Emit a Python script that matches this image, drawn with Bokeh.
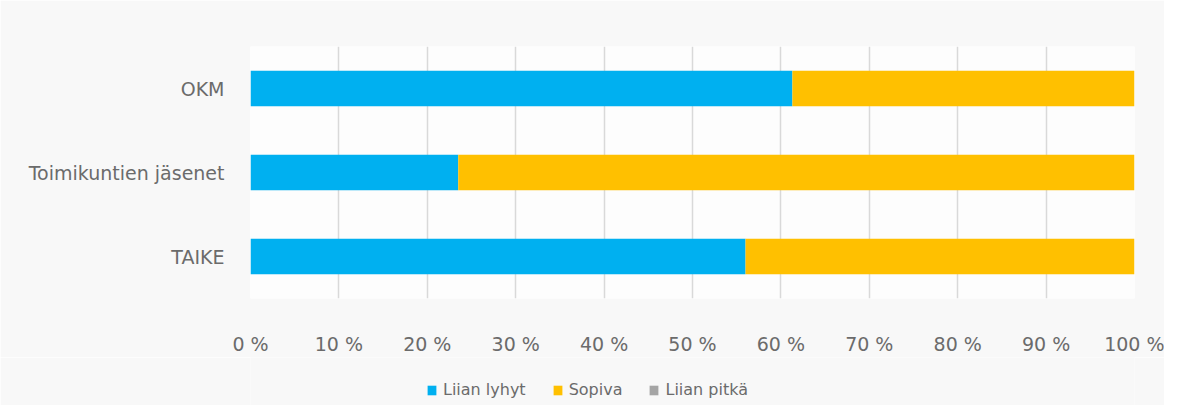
from bokeh.plotting import figure
from bokeh.layouts import column
from bokeh.models import ColumnDataSource, Legend, LegendItem, FactorRange, PrintfTickFormatter, FixedTicker
from bokeh.embed import file_html
from bokeh.resources import INLINE

categories = ["TAIKE", "Toimikuntien jäsenet", "OKM"]
liian_lyhyt = [56, 23.5, 61.3]
sopiva = [44, 76.5, 38.7]
liian_pitka = [0, 0, 0]
series = ["Liian lyhyt", "Sopiva", "Liian pitkä"]
colors = ["#00b0f0", "#ffc000", "#a5a5a5"]
x_ticks = [0, 10, 20, 30, 40, 50, 60, 70, 80, 90, 100]

FONT = "DejaVu Sans"
TXT = "#6b6b6b"
BG = "#f8f8f8"

source = ColumnDataSource(dict(cat=categories, a=liian_lyhyt, b=sopiva, c=liian_pitka))

p = figure(frame_width=884, frame_height=252, output_backend="svg", toolbar_location=None,
           y_range=FactorRange(*categories, range_padding=0), x_range=(0, 100),
           min_border_left=250, min_border_right=30, min_border_top=46, min_border_bottom=56)
p.background_fill_color = "#fdfdfd"
p.border_fill_color = BG
p.outline_line_color = None

p.hbar_stack(["a", "b", "c"], y="cat", height=0.42, color=colors, line_width=0, source=source)

p.xaxis.ticker = FixedTicker(ticks=x_ticks)
p.xaxis.formatter = PrintfTickFormatter(format="%d %%")
p.xaxis.axis_line_color = None
p.xaxis.major_tick_line_color = None
p.xaxis.minor_tick_line_color = None
p.xaxis.major_label_standoff = 28
p.xaxis.major_label_text_font = FONT
p.xaxis.major_label_text_font_size = "19px"
p.xaxis.major_label_text_color = TXT

p.yaxis.axis_line_color = None
p.yaxis.major_tick_line_color = None
p.yaxis.minor_tick_line_color = None
p.yaxis.major_label_standoff = 20
p.yaxis.major_label_text_font = FONT
p.yaxis.major_label_text_font_size = "19px"
p.yaxis.major_label_text_color = TXT

p.ygrid.grid_line_color = None
p.xgrid.grid_line_color = "#d9d9d9"
p.xgrid.grid_line_width = 1.5

# legend strip below the chart (same series; zero-height bars so only swatches show)
q = figure(width=1164, height=48, output_backend="svg", toolbar_location=None,
           y_range=FactorRange(*categories), x_range=(0, 100),
           x_axis_location=None, y_axis_location=None,
           min_border_left=0, min_border_right=0, min_border_top=0, min_border_bottom=0)
q.background_fill_color = BG
q.border_fill_color = BG
q.outline_line_color = None
q.grid.visible = False
rs = q.hbar_stack(["a", "b", "c"], y="cat", height=0, color=colors, line_width=0, source=source)

legend = Legend(items=[LegendItem(label=s, renderers=[r]) for s, r in zip(series, rs)],
                orientation="horizontal", location=(176, 6))
legend.label_text_font = FONT
legend.label_text_font_size = "16px"
legend.label_text_color = TXT
legend.glyph_width = 11
legend.glyph_height = 12
legend.spacing = 26
legend.label_standoff = 6
legend.padding = 4
legend.background_fill_alpha = 0
legend.border_line_color = None
legend.margin = 0
q.add_layout(legend, "center")

open("out.html", "w").write(file_html(column(p, q, spacing=0), INLINE))
